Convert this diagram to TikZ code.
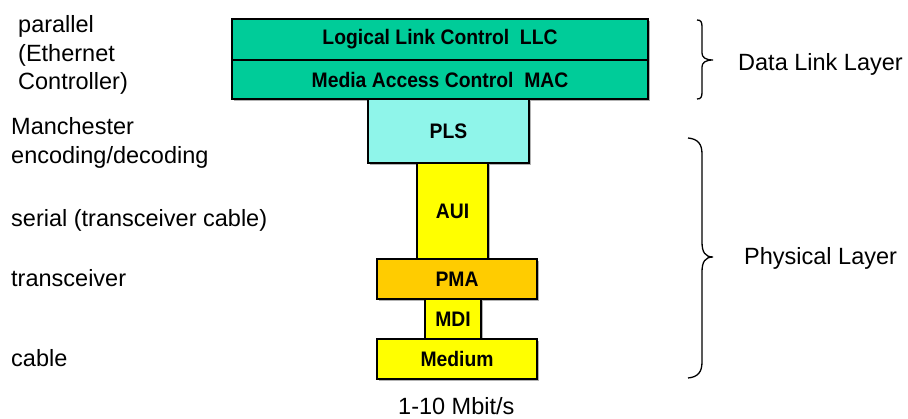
\documentclass[tikz,border=0pt]{standalone}
\usepackage{fontspec}
\setmainfont{Liberation Sans}
\newfontfamily\boxfont[FakeStretch=0.92]{Liberation Sans}
\definecolor{llcgreen}{HTML}{00CC99}
\definecolor{plscyan}{HTML}{8FF5EA}
\definecolor{yel}{HTML}{FFFF00}
\definecolor{pmaorange}{HTML}{FFCC00}
\tikzset{
  layerbox/.style={draw=black, line width=1.3pt, inner sep=0pt, outer sep=0pt,
    font=\boxfont\fontsize{21}{24}\selectfont\bfseries,
    preaction={fill=black!30, transform canvas={shift={(1.6pt,-1.6pt)}}}},
  lbl/.style={inner sep=0pt, anchor=base west, font=\fontsize{23.5}{28}\selectfont},
  bracepath/.style={draw=black, line width=1.3pt}
}
\begin{document}
\begin{tikzpicture}[x=1pt,y=-1pt]
\useasboundingbox (0,0) rectangle (908,419);
% boxes
\node[layerbox, fill=llcgreen, minimum width=416pt, minimum height=41pt] (llc) at (440,39.5) {Logical Link Control\ \ LLC};
\node[layerbox, fill=llcgreen, minimum width=416pt, minimum height=39pt] (mac) at (440,79.5) {Media Access Control\ \ MAC};
\node[layerbox, fill=plscyan, minimum width=161pt, minimum height=64pt] (pls) at (448.5,131) {PLS};
\node[layerbox, fill=yel, minimum width=71pt, minimum height=96pt] (aui) at (452.5,211) {AUI};
\node[layerbox, fill=pmaorange, minimum width=160pt, minimum height=40pt] (pma) at (457,279) {PMA};
\node[layerbox, fill=yel, minimum width=56pt, minimum height=40pt] (mdi) at (453,319) {MDI};
\node[layerbox, fill=yel, minimum width=160pt, minimum height=40pt] (medium) at (457,359) {Medium};
% left labels
\node[lbl] (par1) at (18,33) {parallel};
\node[lbl] (par2) at (18,61.5) {(Ethernet};
\node[lbl] (par3) at (18,90) {Controller)};
\node[lbl] (man1) at (11,135) {Manchester};
\node[lbl] (man2) at (11,163.5) {encoding/decoding};
\node[lbl] (ser) at (11,227) {serial (transceiver cable)};
\node[lbl] (trx) at (11,287) {transceiver};
\node[lbl] (cab) at (11,367) {cable};
% right labels
\node[lbl] (dll) at (738,71) {Data Link Layer};
\node[lbl] (phl) at (744,265) {Physical Layer};
\node[lbl] (rate) at (398,415) {1-10 Mbit/s};
% braces
\coordinate (b1top) at (697,20);
\coordinate (b1tip) at (713,60);
\coordinate (b1bot) at (697,99);
\draw[bracepath] (b1top) .. controls (701,20) and (702,22) .. (702,27) -- (702,53)
  .. controls (702,57) and (705,60) .. (b1tip)
  .. controls (705,60) and (702,63) .. (702,67) -- (702,92)
  .. controls (702,97) and (701,99) .. (b1bot);
\coordinate (b2top) at (688,138);
\coordinate (b2tip) at (713,257);
\coordinate (b2bot) at (688,378);
\draw[bracepath] (b2top) .. controls (698,139) and (702,144) .. (702,154) -- (702,242)
  .. controls (702,252) and (705,257) .. (b2tip)
  .. controls (705,257) and (702,262) .. (702,272) -- (702,362)
  .. controls (702,372) and (698,377) .. (b2bot);
\end{tikzpicture}
\end{document}
